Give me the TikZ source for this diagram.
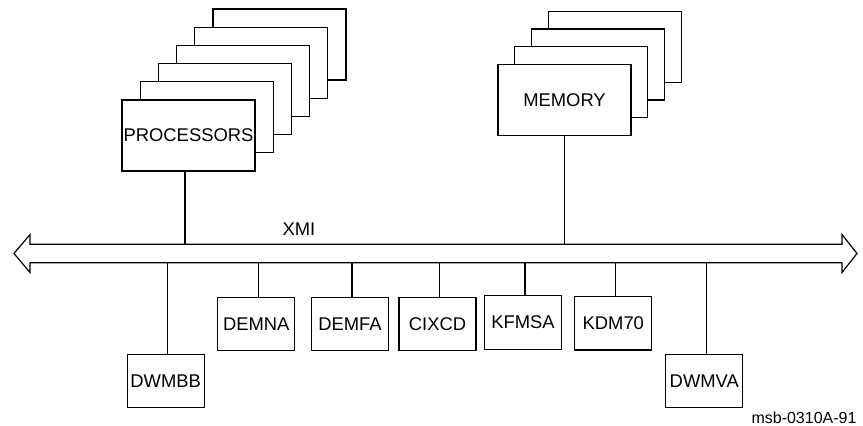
\documentclass[tikz,border=0pt]{standalone}
\usepackage{fontspec}
\setmainfont{Liberation Sans}
\begin{document}
\begin{tikzpicture}[x=0.5pt,y=-0.5pt,line width=0.6pt,
  font=\fontsize{9.2}{11}\selectfont,
  card/.style={draw,rectangle,fill=white,inner sep=0pt,minimum width=66.5pt,minimum height=35.5pt},
  iobox/.style={draw,rectangle,fill=white,inner sep=0pt,minimum width=38.5pt,minimum height=26.7pt}]
  \useasboundingbox (0,0) rectangle (863,426);
  % processor cards, back to front
  \foreach \i in {5,...,1}
    \node[card,xshift=\i*9.1pt,yshift=\i*9.1pt] (proc\i) at (188.5,135.5) {};
  \node[card] (proc) at (188.5,135.5) {PROCESSORS};
  % memory cards
  \foreach \i in {3,...,1}
    \node[card,xshift=\i*8.35pt,yshift=\i*8.85pt] (mem\i) at (564.5,100) {};
  \node[card] (mem) at (564.5,100) {MEMORY};
  % XMI bus
  \coordinate (bustop) at (0,244.3);
  \coordinate (busbot) at (0,262.7);
  \draw (14,253.5) -- (30,234.5) -- (30,244.3) -- (842,244.3) -- (842,234.5)
    -- (857,253.5) -- (842,272.5) -- (842,262.7) -- (30,262.7) -- (30,272.5) -- cycle;
  \node (xmi) at (299,229) {XMI};
  \draw ([xshift=-1.75pt]proc.south) -- ([xshift=-1.75pt]proc.south |- bustop);
  \draw (mem.south) -- (mem.south |- bustop);
  % adapters
  \node[iobox] (dwmbb) at (165.7,381) {DWMBB};
  \node[iobox] (demna) at (256.3,324) {DEMNA};
  \node[iobox] (demfa) at (350,324) {DEMFA};
  \node[iobox] (cixcd) at (437.5,324) {CIXCD};
  \node[iobox] (kfmsa) at (523,322.5) {KFMSA};
  \node[iobox] (kdm70) at (613.3,323.3) {KDM70};
  \node[iobox] (dwmva) at (704.3,381) {DWMVA};
  \foreach \n in {dwmbb,demna,demfa,cixcd,kfmsa,kdm70,dwmva}
    \draw ([xshift=1pt]\n.north) -- ([xshift=1pt]\n.north |- busbot);
  \node[font=\fontsize{8}{10}\selectfont] (fig) at (804,418) {msb-0310A-91};
\end{tikzpicture}
\end{document}
